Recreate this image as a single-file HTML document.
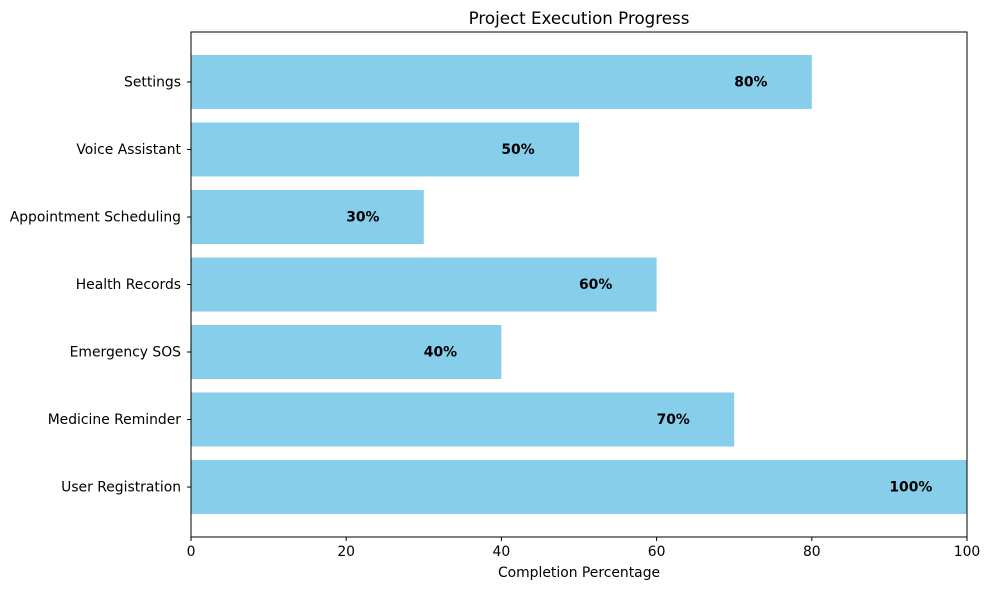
<!DOCTYPE html>
<html><head><meta charset="utf-8"><style>
body{margin:0;background:#fff;font-family:"Liberation Sans","DejaVu Sans",sans-serif;}
svg text{font-family:"DejaVu Sans","Liberation Sans",sans-serif;}
</style></head><body>
<svg id="chart" width="989" height="590" xmlns="http://www.w3.org/2000/svg"></svg>
<script>
const categories=["User Registration","Medicine Reminder","Emergency SOS","Health Records","Appointment Scheduling","Voice Assistant","Settings"];
const values=[100,70,40,60,30,50,80];
const xTicks=[0,20,40,60,80,100];
const NS="http://www.w3.org/2000/svg";
const svg=document.getElementById('chart');
const L=191,R=967,T=32,B=537;
const x=v=>L+(v-0)/(100-0)*(R-L);
const ymin=-0.74,ymax=6.74;
const y=i=>B-(i-ymin)/(ymax-ymin)*(B-T);
function mk(tag,attrs,text){const e=document.createElementNS(NS,tag);for(const k in attrs)e.setAttribute(k,attrs[k]);if(text!==undefined)e.textContent=text;svg.appendChild(e);return e;}
const bh=(y(0)-y(0.8));
categories.forEach((c,i)=>{
  const r=mk('rect',{x:x(0),y:y(i)-bh/2,width:x(values[i])-x(0),height:bh,fill:'#87ceeb'});
  
  
  const t=mk('text',{x:x(values[i]-10),y:y(i)+4.5,'text-anchor':'start','font-size':13.9,'font-weight':'bold',fill:'#000'},values[i]+'%');
  
  
  mk('line',{x1:L-4,x2:L,y1:y(i),y2:y(i),stroke:'#000'});
  const yl=mk('text',{x:L-10,y:y(i)+4.5,'text-anchor':'end','font-size':13.9},c);
  
  
});
xTicks.forEach(v=>{
  mk('line',{x1:x(v),x2:x(v),y1:B,y2:B+4,stroke:'#000'});
  const t=mk('text',{x:x(v),y:B+19,'text-anchor':'middle','font-size':13.9},v);
  
  
});
const f=mk('rect',{x:L,y:T,width:R-L,height:B-T,fill:'none',stroke:'#000','stroke-width':1});


const tt=mk('text',{x:(L+R)/2,y:24,'text-anchor':'middle','font-size':16.7},'Project Execution Progress');


const xl=mk('text',{x:(L+R)/2,y:577,'text-anchor':'middle','font-size':13.9},'Completion Percentage');


</script>
</body></html>
